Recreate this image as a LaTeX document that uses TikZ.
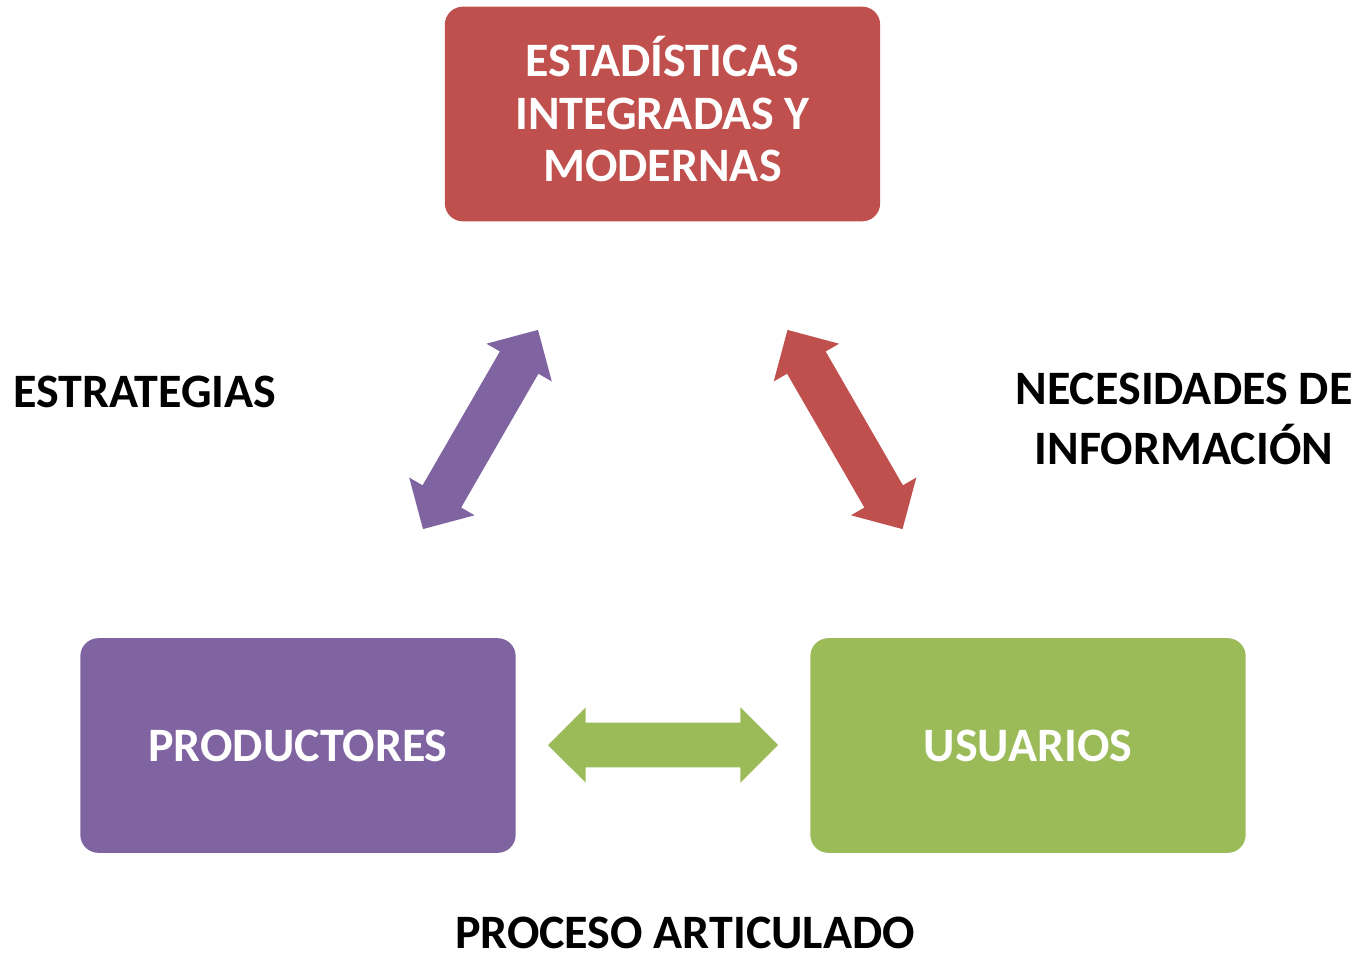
\documentclass[tikz,border=0pt]{standalone}
\usepackage{fontspec}
\setmainfont{Carlito}
\usetikzlibrary{shapes.arrows}
\definecolor{rojo}{HTML}{C0504D}
\definecolor{morado}{HTML}{8064A2}
\definecolor{verde}{HTML}{9BBB59}
\begin{document}
\begin{tikzpicture}[x=0.75pt,y=-0.75pt,
    caja/.style={fill=#1,rounded corners=13.5pt,minimum width=326.5pt,minimum height=161pt,inner sep=0pt,
        text=white,align=center,font=\bfseries\fontsize{36}{39.5}\selectfont},
    flecha/.style={double arrow,fill=#1,inner xsep=0pt,inner ysep=16.5pt,minimum height=172.5pt,
        double arrow head extend=11.6pt},
    etiqueta/.style={inner sep=0pt,anchor=base,font=\bfseries\fontsize{36}{39}\selectfont}]
    \useasboundingbox (0,0) rectangle (1360,956);
    \node[caja=rojo,text depth=7.5pt] (est) at (662.5,114) {ESTADÍSTICAS\\INTEGRADAS Y\\MODERNAS};
    \node[caja=morado] (prod) at (298,745.5) {PRODUCTORES};
    \node[caja=verde] (usu) at (1028,745.5) {USUARIOS};
    \node[flecha=morado,rotate=60] (fm) at (480.5,429.5) {};
    \node[flecha=rojo,rotate=-60] (fr) at (845,429.5) {};
    \node[flecha=verde] (fv) at (663,745) {};
    \node[etiqueta] (estr) at (145,407) {ESTRATEGIAS};
    \node[etiqueta] (nec) at (1184,404) {NECESIDADES DE};
    \node[etiqueta] (inf) at (1184,464) {INFORMACIÓN};
    \node[etiqueta] (proc) at (685,948) {PROCESO ARTICULADO};
\end{tikzpicture}
\end{document}
